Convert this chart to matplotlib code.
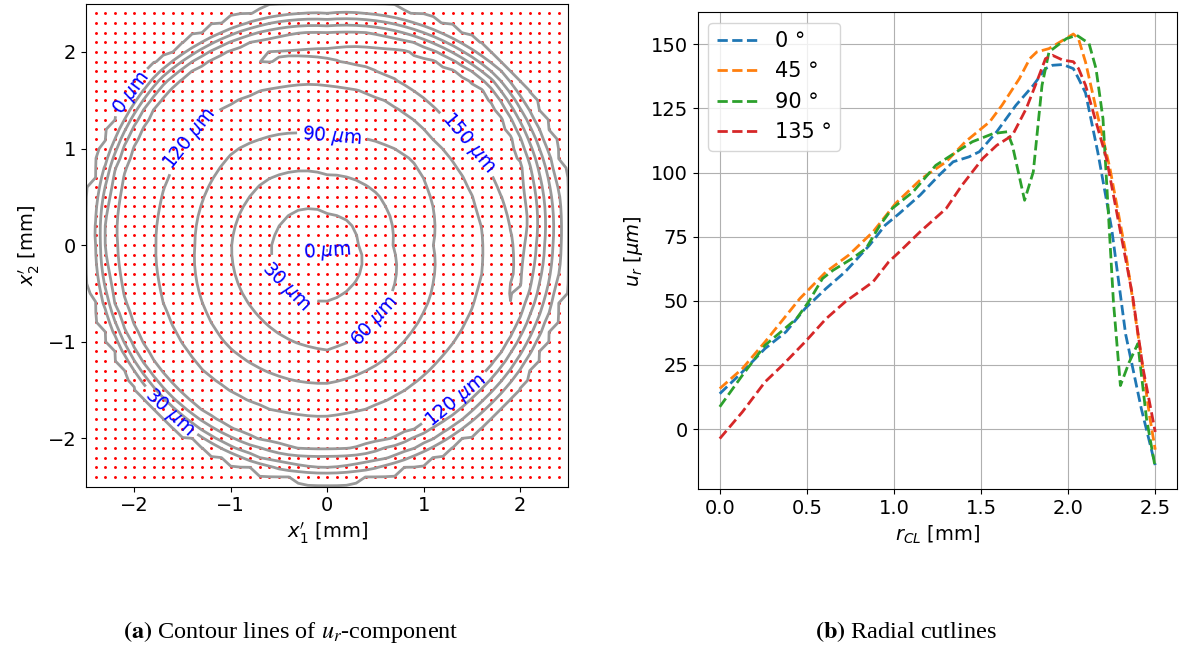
import numpy as np
import matplotlib
matplotlib.use("Agg")
import matplotlib.pyplot as plt

# ---------------- Radial cutline data (panel b) ----------------
r_0 = [0, 0.13, 0.26, 0.38, 0.49, 0.61, 0.72, 0.86, 0.95, 1.03, 1.15, 1.26, 1.34, 1.43, 1.49,
       1.59, 1.70, 1.80, 1.87, 1.91, 1.97, 2.03, 2.06, 2.10, 2.17, 2.25, 2.33, 2.42, 2.5]
u_0 = [13.8, 22.3, 31.4, 37.9, 47, 54.8, 61.3, 71.7, 79.5, 84, 91.2, 99, 104.2, 106.1, 108.1,
       115.9, 126.2, 134, 140.5, 141.8, 142.1, 140.5, 136.6, 131, 108, 78, 37, 8, -14]

r_45 = [0, 0.13, 0.26, 0.46, 0.61, 0.74, 0.88, 1.01, 1.16, 1.30, 1.41, 1.55, 1.62, 1.72, 1.78,
        1.82, 1.89, 2.03, 2.06, 2.10, 2.16, 2.24, 2.33, 2.41, 2.47, 2.5]
u_45 = [15.8, 23.6, 34, 50.9, 61.3, 67.8, 76.9, 88, 97.7, 104.2, 112, 119.8, 126.2, 136.6, 144.4,
        147, 148.3, 154, 152, 143, 125, 101.6, 69, 32.7, 4, -8]

r_90 = [0, 0.13, 0.26, 0.44, 0.51, 0.59, 0.65, 0.76, 0.84, 0.92, 0.99, 1.11, 1.24, 1.36, 1.45,
        1.57, 1.65, 1.68, 1.75, 1.80, 1.85, 1.89, 1.99, 2.05, 2.12, 2.16, 2.20, 2.26, 2.30, 2.35,
        2.40, 2.45, 2.5]
u_90 = [8.7, 21, 32.7, 43, 49.6, 58.7, 61.9, 66.5, 70.4, 79.5, 86, 92.5, 102.8, 108.1, 112,
        115.2, 115.9, 110.6, 89.2, 100.3, 134, 147, 152.2, 153.5, 150.3, 140.5, 121, 49.6, 17, 26,
        33.3, 4, -15]

r_135 = [0, 0.13, 0.26, 0.36, 0.49, 0.61, 0.72, 0.88, 0.97, 1.03, 1.15, 1.30, 1.39, 1.51, 1.59,
         1.68, 1.76, 1.82, 1.87, 1.91, 1.97, 2.03, 2.06, 2.10, 2.22, 2.30, 2.37, 2.43, 2.5]
u_135 = [-3.7, 6.7, 18.4, 24.9, 34, 43, 49.6, 57.4, 65.2, 69, 76.9, 86, 95, 105.5, 110.6,
         114.5, 125, 135.4, 144.4, 145.7, 143.8, 143.2, 140.5, 134, 105.5, 77, 52, 23.6, -1.1]

cut_labels = ["0 °", "45 °", "90 °", "135 °"]

# ---------------- Contour map data (panel a) ----------------
# radii (mm) at which the u_r field reaches the listed values, read along 8 directions
ctr_angles = [0, 45, 90, 135, 180, 225, 270, 315]
ctr_peak = [156, 158, 154, 145, 140, 140, 140, 140]
ctr_radii = [
    [0, 0.05, 0.32, 0.68, 1.10, 1.62, 1.98, 2.06, 2.17, 2.25, 2.34, 2.43, 2.48, 3.6],
    [0, 0.05, 0.32, 0.74, 1.25, 1.55, 1.85, 2.25, 2.36, 2.42, 2.48, 2.55, 2.62, 3.6],
    [0, 0.05, 0.32, 0.73, 1.11, 1.67, 1.95, 2.05, 2.20, 2.27, 2.34, 2.40, 2.47, 3.6],
    [0, 0.05, 0.49, 0.93, 1.37, 1.81, 2.05, 2.15, 2.30, 2.38, 2.44, 2.50, 2.56, 3.6],
    [0, 0.05, 0.58, 0.99, 1.37, 1.78, 1.98, 2.05, 2.18, 2.30, 2.35, 2.40, 2.46, 3.6],
    [0, 0.05, 0.62, 1.02, 1.47, 1.83, 1.98, 2.05, 2.15, 2.25, 2.32, 2.38, 2.44, 3.6],
    [0, 0.05, 0.58, 1.09, 1.43, 1.78, 1.92, 2.00, 2.12, 2.18, 2.30, 2.36, 2.42, 3.6],
    [0, 0.05, 0.46, 0.87, 1.25, 1.66, 1.90, 1.98, 2.10, 2.18, 2.28, 2.36, 2.44, 3.6],
]
ctr_levels = [0, 30, 60, 90, 120, 150]
label_pos = {
    0: [(-2.0, 1.55), (0.05, -0.15)],
    30: [(-0.45, -0.45), (-1.65, -1.75)],
    60: [(0.45, -0.75)],
    90: [(0.05, 1.1)],
    120: [(-1.35, 1.05), (1.25, -1.5)],
    150: [(1.4, 1.0)],
}

# ---------------- Build field ----------------
grid = np.linspace(-2.5, 2.5, 51)
X, Y = np.meshgrid(grid, grid)
R = np.hypot(X, Y)
T = np.degrees(np.arctan2(Y, X)) % 360
angs = np.array(ctr_angles + [360], float)
rad = np.array(ctr_radii + [ctr_radii[0]], float)
pk = np.array(ctr_peak + [ctr_peak[0]], float)
Z = np.zeros_like(R)
for i in range(R.shape[0]):
    for j in range(R.shape[1]):
        t = T[i, j]
        k = min(np.searchsorted(angs, t, side="right") - 1, len(angs) - 2)
        w = (t - angs[k]) / (angs[k + 1] - angs[k])
        rr = (1 - w) * rad[k] + w * rad[k + 1]
        p = (1 - w) * pk[k] + w * pk[k + 1]
        vals = [-5, 0, 30, 60, 90, 120, p, p, 120, 90, 60, 30, 0, -15]
        Z[i, j] = np.interp(R[i, j], rr, vals)

dots = np.round(np.arange(-2.4, 2.41, 0.1), 2)
DX, DY = np.meshgrid(dots, dots)

# ---------------- Figure ----------------
plt.rcParams["mathtext.fontset"] = "dejavusans"
fig = plt.figure(figsize=(11.84, 6.48), dpi=100)

ax1 = fig.add_axes([0.0726, 0.249, 0.4075, 0.7454])
ax1.plot(DX.ravel(), DY.ravel(), "o", color="red", ms=2.1, mew=0, zorder=1)
for lev in ctr_levels:
    cs = ax1.contour(X, Y, Z, levels=[lev], colors="#999999", linewidths=2, zorder=2)
    ax1.clabel(cs, fmt="%d $\\mu$m", manual=label_pos[lev], fontsize=13.5,
               colors="blue", inline=True)
ax1.set_xlim(-2.5, 2.5)
ax1.set_ylim(-2.5, 2.5)
ax1.set_xticks([-2, -1, 0, 1, 2])
ax1.set_yticks([-2, -1, 0, 1, 2])
ax1.tick_params(labelsize=14)
ax1.set_xlabel("$x_1'$ [mm]", fontsize=14)
ax1.set_ylabel("$x_2'$ [mm]", fontsize=14)

ax2 = fig.add_axes([0.5895, 0.2449, 0.4046, 0.7361])
for rr, uu, lab in zip([r_0, r_45, r_90, r_135], [u_0, u_45, u_90, u_135], cut_labels):
    ax2.plot(rr, uu, "--", lw=2, label=lab)
ax2.grid(True)
ax2.set_xticks([0.0, 0.5, 1.0, 1.5, 2.0, 2.5])
ax2.set_yticks([0, 25, 50, 75, 100, 125, 150])
ax2.tick_params(labelsize=14)
ax2.set_xlabel("$r_{CL}$ [mm]", fontsize=14)
ax2.set_ylabel("$u_r$ [$\\mu m$]", fontsize=14)
ax2.legend(loc="upper left", fontsize=15)

plt.rcParams["mathtext.fontset"] = "stix"
cap_kw = dict(fontsize=17.5, family="Liberation Serif", ha="center", va="center")
fig.text(0.246, 0.025, r"$\mathbf{(a)}$ Contour lines of $u_r$-component", **cap_kw)
fig.text(0.765, 0.025, r"$\mathbf{(b)}$ Radial cutlines", **cap_kw)

fig.savefig("out.png", dpi=100)
